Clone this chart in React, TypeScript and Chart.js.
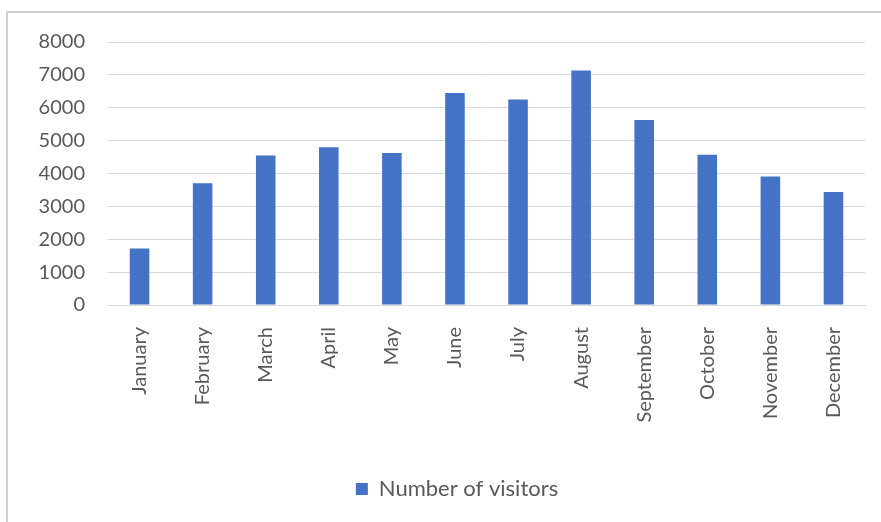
import React, { useEffect, useRef } from 'react';
import { Chart, registerables } from 'chart.js';

Chart.register(...registerables);

const months = [
  'January', 'February', 'March', 'April', 'May', 'June',
  'July', 'August', 'September', 'October', 'November', 'December',
];
const visitors = [1720, 3700, 4550, 4800, 4620, 6450, 6250, 7130, 5630, 4570, 3910, 3440];
const yMin = 0;
const yMax = 8000;
const yStep = 1000;
const seriesLabel = 'Number of visitors';

const framePlugin = {
  id: 'frame',
  afterLayout(chart: any) {
    if (chart.legend) {
      chart.legend.left += 7;
      chart.legend.right += 7;
    }
  },
  beforeDraw(chart: any) {
    const { ctx } = chart;
    ctx.save();
    ctx.fillStyle = '#ffffff';
    ctx.fillRect(0, 0, chart.width, chart.height);
    ctx.strokeStyle = '#d0d0d0';
    ctx.lineWidth = 2;
    ctx.strokeRect(7, 12, chart.width + 20, chart.height + 20);
    ctx.restore();
  },
};

export default function App() {
  const ref = useRef<HTMLCanvasElement | null>(null);

  useEffect(() => {
    if (!ref.current) return;
    const font = "Lato, 'Liberation Sans', sans-serif";
    const chart = new Chart(ref.current, {
      type: 'bar',
      data: {
        labels: months,
        datasets: [
          {
            label: seriesLabel,
            data: visitors,
            backgroundColor: '#4472C4',
            borderWidth: 0,
            barPercentage: 0.31,
            categoryPercentage: 1,
          },
        ],
      },
      options: {
        responsive: false,
        animation: false,
        devicePixelRatio: 1,
        layout: { padding: { top: 42, right: 16, bottom: 12, left: 35 } },
        plugins: {
          legend: {
            position: 'bottom',
            labels: {
              color: '#595959',
              font: { family: font, size: 22 },
              boxWidth: 12,
              boxHeight: 12,
              padding: 10,
            },
          },
          tooltip: { enabled: false },
        },
        scales: {
          x: {
            grid: { display: false, drawTicks: false },
            border: { display: true, color: '#d9d9d9', width: 1 },
            ticks: {
              color: '#595959',
              font: { family: font, size: 20 },
              minRotation: 90,
              maxRotation: 90,
              padding: 22,
              autoSkip: false,
            },
            afterFit: (scale: any) => {
              scale.height = 163;
            },
          },
          y: {
            min: yMin,
            max: yMax,
            grid: { color: '#d9d9d9', drawTicks: false },
            border: { display: false },
            ticks: {
              stepSize: yStep,
              color: '#595959',
              font: { family: font, size: 20 },
              padding: 23,
              callback: (v: any) => String(v),
            },
            afterFit: (scale: any) => {
              scale.width = 73;
            },
          },
        },
      },
      plugins: [framePlugin],
    });
    return () => chart.destroy();
  }, []);

  return (
    <div style={{ position: 'fixed', left: 0, top: 0, width: 881, height: 522 }}>
      <canvas ref={ref} width={881} height={522} style={{ display: 'block' }} />
    </div>
  );
}
